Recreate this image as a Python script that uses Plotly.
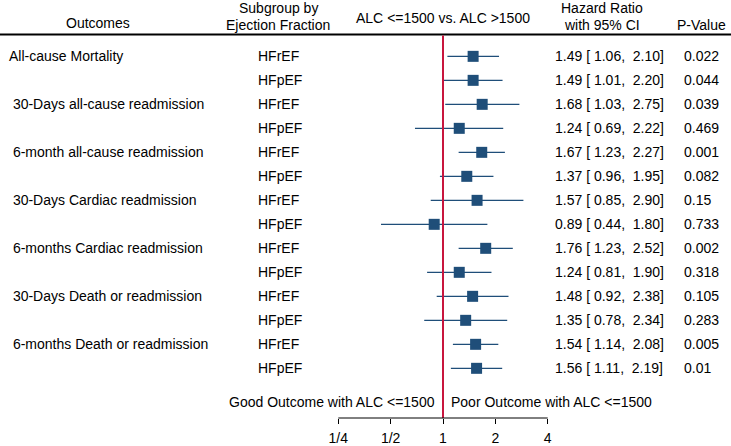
import math
import plotly.graph_objects as go

outcomes = ["All-cause Mortality", "", "\u00a030-Days all-cause readmission", "",
            "\u00a06-month all-cause readmission", "", "\u00a030-Days Cardiac readmission", "",
            "\u00a06-months Cardiac readmission", "", "\u00a030-Days Death or readmission", "",
            "\u00a06-months Death or readmission", ""]
subgroups = ["HFrEF", "HFpEF"] * 7
hr = [1.49, 1.49, 1.68, 1.24, 1.67, 1.37, 1.57, 0.89, 1.76, 1.24, 1.48, 1.35, 1.54, 1.56]
lo = [1.06, 1.01, 1.03, 0.69, 1.23, 0.96, 0.85, 0.44, 1.23, 0.81, 0.92, 0.78, 1.14, 1.11]
hi = [2.10, 2.20, 2.75, 2.22, 2.27, 1.95, 2.90, 1.80, 2.52, 1.90, 2.38, 2.34, 2.08, 2.19]
pvals = ["0.022", "0.044", "0.039", "0.469", "0.001", "0.082", "0.15", "0.733",
         "0.002", "0.318", "0.105", "0.283", "0.005", "0.01"]
tick_vals = [0.25, 0.5, 1, 2, 4]
tick_text = ["1/4", "1/2", "1", "2", "4"]

W, H = 731, 446
FONT = "Liberation Sans, Arial, sans-serif"
NAVY = "#1F4E79"
RED = "#C8163E"
FS = 14

rows = list(range(len(hr)))

def ci_fmt(h, l, u):
    s = f"{h:.2f} [{l:5.2f}, {u:5.2f}]"
    return s.replace(" ", "\u00a0")

fig = go.Figure()

# CI lines
xs, ys = [], []
for i in rows:
    xs += [lo[i], hi[i], None]
    ys += [i, i, None]
fig.add_trace(go.Scatter(x=xs, y=ys, mode="lines", line=dict(color=NAVY, width=1.3),
                         hoverinfo="skip", showlegend=False))
# point estimates
fig.add_trace(go.Scatter(x=hr, y=rows, mode="markers",
                         marker=dict(symbol="square", size=11, color=NAVY, line=dict(width=0)),
                         showlegend=False))

# plot area: y from 0 to 425 px
plot_h = 425
y_top = -2.348
px_per_row = 24.4
y_bot = y_top + plot_h / px_per_row

def ypx(p):  # pixel -> data y
    return y_top + p / px_per_row

# log x range so that 1/4 -> 338.3 px and 4 -> 547.7 px over full width
ppd = (547.7 - 338.3) / math.log10(16)
x0 = math.log10(0.25) - 338.3 / ppd
x1 = math.log10(0.25) + (W - 338.3) / ppd

ann = []
for i in rows:
    if outcomes[i]:
        ann.append(dict(x=7 / W, xref="paper", y=i, yref="y", text=outcomes[i],
                        xanchor="left", yanchor="middle", showarrow=False))
    ann.append(dict(x=256 / W, xref="paper", y=i, yref="y", text=subgroups[i],
                    xanchor="left", yanchor="middle", showarrow=False))
    ann.append(dict(x=552.5 / W, xref="paper", y=i, yref="y", text=ci_fmt(hr[i], lo[i], hi[i]),
                    xanchor="left", yanchor="middle", showarrow=False))
    ann.append(dict(x=681.5 / W, xref="paper", y=i, yref="y", text=pvals[i],
                    xanchor="left", yanchor="middle", showarrow=False))

headers = [
    ("Outcomes", 98, 23),
    ("Subgroup by", 278, 8),
    ("Ejection Fraction", 278, 25),
    ("ALC <=1500 vs. ALC >1500", 443, 18),
    ("Hazard Ratio", 602, 8),
    ("with 95% CI", 602, 25),
    ("P-Value", 701, 25),
]
for t, xp, yp in headers:
    ann.append(dict(x=xp / W, xref="paper", y=ypx(yp), yref="y", text=t,
                    xanchor="center", yanchor="middle", showarrow=False))

ann.append(dict(x=437 / W, xref="paper", y=ypx(409), yref="y", text="Good Outcome with ALC <=1500",
                xanchor="right", yanchor="middle", showarrow=False))
ann.append(dict(x=449 / W, xref="paper", y=ypx(409), yref="y", text="Poor Outcome with ALC <=1500",
                xanchor="left", yanchor="middle", showarrow=False))

shapes = [
    dict(type="line", xref="paper", x0=0, x1=1, yref="y", y0=ypx(35), y1=ypx(35),
         line=dict(color="black", width=2)),
    dict(type="line", xref="x", x0=1, x1=1, yref="y", y0=ypx(36), y1=y_bot,
         line=dict(color=RED, width=2)),
    dict(type="line", xref="x", x0=0.25, x1=4, yref="paper", y0=0, y1=0,
         line=dict(color="black", width=1)),
]

fig.update_layout(
    width=W, height=H,
    margin=dict(l=0, r=0, t=0, b=H - plot_h),
    plot_bgcolor="white", paper_bgcolor="white",
    font=dict(family=FONT, size=FS, color="black"),
    annotations=ann, shapes=shapes, showlegend=False,
    xaxis=dict(type="log", range=[x0, x1], tickvals=tick_vals, ticktext=tick_text,
               ticks="outside", ticklen=5, tickcolor="black", tickwidth=1,
               ticklabelstandoff=2,
               showgrid=False, zeroline=False, showline=False,
               tickfont=dict(family=FONT, size=FS, color="black")),
    yaxis=dict(range=[y_bot, y_top], showticklabels=False, showgrid=False,
               zeroline=False, showline=False, ticks=""),
)

fig.write_html("out.html", config={"displayModeBar": False})

# remove the browser's default page margin so the figure sits at the window's corner
with open("out.html", "r", encoding="utf-8") as f:
    html = f.read()
html = html.replace("<head>", "<head><style>html,body{margin:0;padding:0;overflow:hidden;}</style>", 1)
with open("out.html", "w", encoding="utf-8") as f:
    f.write(html)
